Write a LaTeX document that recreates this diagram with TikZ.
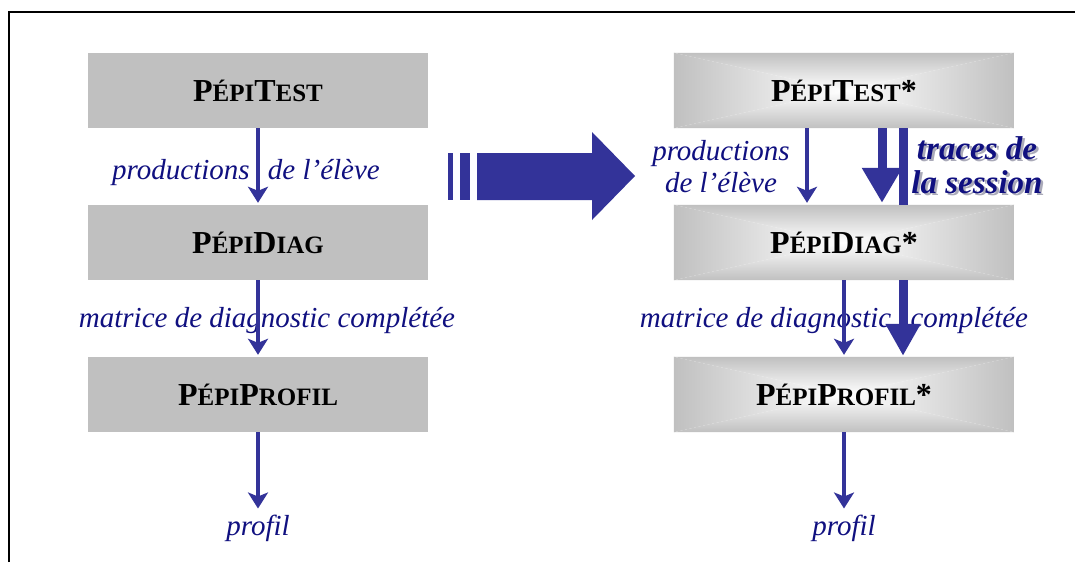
\documentclass[tikz,border=0pt]{standalone}
\usepackage{fontspec}
\setmainfont{Liberation Serif}
\usetikzlibrary{arrows.meta,backgrounds}
\definecolor{arrowblue}{RGB}{51,51,153}
\definecolor{textblue}{RGB}{16,16,128}
\definecolor{boxgray}{RGB}{192,192,192}
\definecolor{shadowgray}{RGB}{170,170,185}
\newcommand\smcap[1]{{\fontsize{25}{25}\selectfont #1}}
\newcommand\gradfill[1]{%
  \shade[top color=boxgray,bottom color=white] (#1.north west) -- (#1.north east) -- (#1.center) -- cycle;
  \shade[bottom color=boxgray,top color=white] (#1.south west) -- (#1.south east) -- (#1.center) -- cycle;
  \shade[left color=boxgray,right color=white] (#1.north west) -- (#1.south west) -- (#1.center) -- cycle;
  \shade[right color=boxgray,left color=white] (#1.north east) -- (#1.south east) -- (#1.center) -- cycle;}
\begin{document}
\begin{tikzpicture}[x=1pt,y=-1pt,
  boxbase/.style={minimum width=340pt,minimum height=75pt,inner sep=0pt,
    font=\fontsize{32}{32}\selectfont\bfseries},
  flatbox/.style={boxbase,fill=boxgray},
  gradbox/.style={boxbase},
  lbl/.style={font=\fontsize{29}{32}\selectfont\itshape,text=textblue,inner sep=0pt,align=center},
  tracelbl/.style={font=\fontsize{33}{34}\selectfont\bfseries\itshape,inner sep=0pt,align=center},
  thinarrow/.style={draw=arrowblue,line width=3.5pt,-{Stealth[width=20pt,length=16pt,inset=4pt]}},
  bigarrow/.style={draw=arrowblue,line width=9pt,-{Triangle[width=38pt,length=35pt]}},
  midarrow/.style={draw=arrowblue,line width=9pt,-{Triangle[width=33pt,length=32pt]}},
  barline/.style={draw=arrowblue,line width=9pt}
]
\useasboundingbox (0,0) rectangle (1075,562);

% left column
\node[flatbox] (lt) at (258,90.5) {P\smcap{ÉPI}T\smcap{EST}};
\node[flatbox] (ld) at (258,242.5) {P\smcap{ÉPI}D\smcap{IAG}};
\node[flatbox] (lp) at (258,394.5) {P\smcap{ÉPI}P\smcap{ROFIL}};
\node[lbl,anchor=west] (lprod) at (112,173) {productions\hspace{11pt} de l’élève};
\node[lbl] (lmat) at (267,321) {matrice de diagnostic complétée};
\node[lbl] (lprof) at (258,528) {profil};

% right column
\node[gradbox] (rt) at (844,90.5) {P\smcap{ÉPI}T\smcap{EST}*};
\node[gradbox] (rd) at (844,242.5) {P\smcap{ÉPI}D\smcap{IAG}*};
\node[gradbox] (rp) at (844,394.5) {P\smcap{ÉPI}P\smcap{ROFIL}*};
\node[lbl] (rprod) at (721,167) {productions\\de l’élève};
\node[lbl] (rmat) at (834,321) {matrice de diagnostic\hspace{12pt} complétée};
\node[lbl] (rprof) at (844,528) {profil};
\node[tracelbl,text=shadowgray] (trsh) at (979.5,167.5) {traces de\\la session};
\node[tracelbl,text=textblue] (tr) at (977,165) {traces de\\la session};

% backgrounds
\begin{scope}[on background layer]
  \fill[white] (0,0) rectangle (1075,562);
  \gradfill{rt}
  \gradfill{rd}
  \gradfill{rp}
\end{scope}

% frame
\draw[line width=2.5pt,line join=miter] (9,562) -- (9,12) -- (1075,12);

% left arrows
\draw[thinarrow,shorten >=2pt] (lt.south) -- (ld.north);
\draw[thinarrow,shorten >=2pt] (ld.south) -- (lp.north);
\draw[thinarrow,shorten >=6pt] (lp.south) -- (lprof.north);

% right arrows
\draw[thinarrow,shorten >=2pt] ([xshift=-37pt]rt.south) -- ([xshift=-37pt]rd.north);
\draw[thinarrow,shorten >=2pt] (rd.south) -- (rp.north);
\draw[thinarrow,shorten >=6pt] (rp.south) -- (rprof.north);
\draw[bigarrow,shorten >=2pt] ([xshift=38pt]rt.south) -- ([xshift=38pt]rd.north);
\draw[barline] ([xshift=59pt]rt.south) -- ([xshift=59pt]rd.north);
\draw[midarrow,shorten >=1pt] ([xshift=59pt]rd.south) -- ([xshift=59pt]rp.north);

% big transition arrow
\fill[arrowblue] (448,153) rectangle (453,200);
\fill[arrowblue] (460,153) rectangle (470,200);
\fill[arrowblue] (477,153) -- (592,153) -- (592,132) -- (635,176) -- (592,220) -- (592,200) -- (477,200) -- cycle;
\end{tikzpicture}
\end{document}
